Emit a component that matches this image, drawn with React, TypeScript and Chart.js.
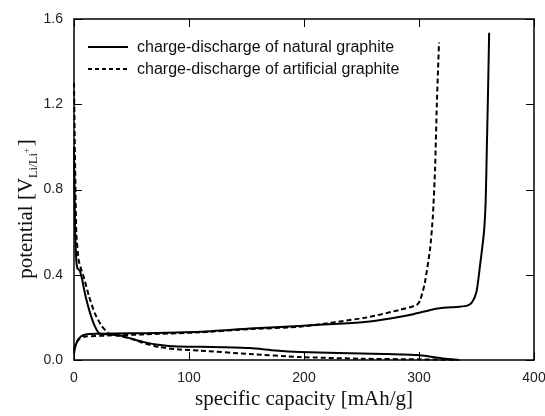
import React, { useEffect, useRef } from "react";
import { Chart, registerables } from "chart.js";

Chart.register(...registerables);

const xTicks = [0, 100, 200, 300, 400];
const yTicks = [0.0, 0.4, 0.8, 1.2, 1.6];

const legendLabels = [
  "charge-discharge of natural graphite",
  "charge-discharge of artificial graphite",
];

// natural graphite — lithiation (discharge)
const natDisCap = [0, 0.5, 1, 2, 3, 5, 7, 10, 14, 18, 22, 30, 40, 50, 60, 75, 90, 110, 130, 153, 175, 196, 230, 270, 298, 315, 328, 335];
const natDisV = [1.0, 0.8, 0.6, 0.47, 0.43, 0.42, 0.38, 0.3, 0.22, 0.16, 0.125, 0.12, 0.115, 0.1, 0.085, 0.07, 0.063, 0.062, 0.06, 0.056, 0.045, 0.038, 0.033, 0.028, 0.023, 0.012, 0.003, 0.0];
// natural graphite — delithiation (charge)
const natChCap = [0, 1, 3, 6, 10, 20, 50, 110, 153, 196, 230, 255, 275, 295, 310, 318, 335, 342, 346, 350, 353, 356.5, 358, 359, 360, 361];
const natChV = [0.03, 0.06, 0.09, 0.11, 0.12, 0.123, 0.125, 0.133, 0.148, 0.16, 0.17, 0.18, 0.195, 0.215, 0.235, 0.243, 0.25, 0.255, 0.27, 0.32, 0.44, 0.6, 0.75, 1.0, 1.25, 1.535];
// artificial graphite — lithiation (discharge)
const artDisCap = [0, 1, 2, 4, 6, 9, 13, 18, 24, 30, 35, 50, 60, 75, 90, 110, 153, 196, 250, 300, 330];
const artDisV = [1.3, 0.9, 0.6, 0.47, 0.43, 0.38, 0.3, 0.22, 0.16, 0.125, 0.118, 0.1, 0.08, 0.06, 0.05, 0.044, 0.028, 0.014, 0.006, 0.003, 0.001];
// artificial graphite — delithiation (charge)
const artChCap = [0, 2, 5, 10, 30, 60, 110, 153, 196, 255, 283, 298, 301, 305, 309.6, 312, 314, 315.5, 317.4];
const artChV = [0.05, 0.08, 0.1, 0.11, 0.115, 0.12, 0.13, 0.145, 0.156, 0.2, 0.235, 0.258, 0.28, 0.36, 0.52, 0.67, 0.9, 1.2, 1.49];

const pts = (xs: number[], ys: number[]) => xs.map((x, i) => ({ x, y: ys[i] }));

const SANS = "'Liberation Sans', Arial, sans-serif";
const SERIF = "'Liberation Serif', 'Times New Roman', serif";

const framePlugin = {
  id: "frame",
  afterDatasetsDraw(chart: any) {
    const { ctx, chartArea: a, scales } = chart;
    const xs = scales.x;
    const ys = scales.y;
    ctx.save();
    ctx.strokeStyle = "#000";
    ctx.lineWidth = 1.5;
    ctx.strokeRect(a.left, a.top, a.right - a.left, a.bottom - a.top);
    const tl = 8;
    ctx.lineWidth = 1;
    ctx.beginPath();
    xTicks.forEach((v) => {
      const px = Math.round(xs.getPixelForValue(v)) + 0.5;
      ctx.moveTo(px, a.bottom);
      ctx.lineTo(px, a.bottom - tl);
      ctx.moveTo(px, a.top);
      ctx.lineTo(px, a.top + tl);
    });
    yTicks.forEach((v) => {
      const py = Math.round(ys.getPixelForValue(v)) + 0.5;
      ctx.moveTo(a.left, py);
      ctx.lineTo(a.left + tl, py);
      ctx.moveTo(a.right, py);
      ctx.lineTo(a.right - tl, py);
    });
    ctx.stroke();

    // legend
    ctx.font = `16px ${SANS}`;
    ctx.fillStyle = "#111";
    ctx.textBaseline = "middle";
    const rows = [47, 69];
    rows.forEach((ry, i) => {
      ctx.beginPath();
      ctx.lineWidth = 2;
      ctx.setLineDash(i === 0 ? [] : [4, 3]);
      ctx.moveTo(88, ry);
      ctx.lineTo(128, ry);
      ctx.stroke();
      ctx.setLineDash([]);
      ctx.fillText(legendLabels[i], 137, ry + 1);
    });

    // x title
    ctx.textBaseline = "alphabetic";
    ctx.textAlign = "center";
    ctx.font = `21px ${SERIF}`;
    ctx.fillText("specific capacity [mAh/g]", (a.left + a.right) / 2, 405);

    // y title with subscript/superscript
    ctx.save();
    ctx.translate(32, 209);
    ctx.rotate(-Math.PI / 2);
    const main1 = "potential [V";
    const sub = "Li/Li";
    const sup = "+";
    const end = "]";
    ctx.font = `21px ${SERIF}`;
    const w1 = ctx.measureText(main1).width;
    const w4 = ctx.measureText(end).width;
    ctx.font = `12px ${SERIF}`;
    const w2 = ctx.measureText(sub).width;
    ctx.font = `9px ${SERIF}`;
    const w3 = ctx.measureText(sup).width;
    const total = w1 + w2 + w3 + w4 + 2;
    let cx = -total / 2;
    ctx.textAlign = "left";
    ctx.font = `21px ${SERIF}`;
    ctx.fillText(main1, cx, 0);
    cx += w1;
    ctx.font = `12px ${SERIF}`;
    ctx.fillText(sub, cx, 5);
    cx += w2;
    ctx.font = `9px ${SERIF}`;
    ctx.fillText(sup, cx, -3);
    cx += w3 + 2;
    ctx.font = `21px ${SERIF}`;
    ctx.fillText(end, cx, 0);
    ctx.restore();

    ctx.restore();
  },
};

export default function App() {
  const ref = useRef<HTMLCanvasElement | null>(null);
  useEffect(() => {
    document.body.style.margin = "0";
    const line = (data: any, dashed: boolean) => ({
      data,
      showLine: true,
      borderColor: "#000",
      backgroundColor: "#000",
      borderWidth: 2,
      borderDash: dashed ? [5, 3] : [],
      pointRadius: 0,
      tension: 0.2,
      fill: false,
      clip: 4,
    });
    const chart = new Chart(ref.current as HTMLCanvasElement, {
      type: "scatter",
      data: {
        datasets: [
          line(pts(natDisCap, natDisV), false),
          line(pts(natChCap, natChV), false),
          line(pts(artDisCap, artDisV), true),
          line(pts(artChCap, artChV), true),
        ],
      },
      options: {
        animation: false,
        responsive: false,
        maintainAspectRatio: false,
        layout: { padding: { top: 19, right: 11, left: 0, bottom: 0 } },
        plugins: { legend: { display: false }, tooltip: { enabled: false } },
        scales: {
          x: {
            type: "linear",
            min: 0,
            max: 400,
            afterFit: (s: any) => {
              s.height = 56;
              s.paddingLeft = 0;
              s.paddingRight = 0;
            },
            afterBuildTicks: (s: any) => {
              s.ticks = xTicks.map((v) => ({ value: v }));
            },
            grid: { display: false, drawTicks: false },
            border: { display: false },
            ticks: {
              color: "#222",
              font: { family: SANS, size: 14 },
              padding: 10,
              callback: (v: any) => String(v),
            },
          },
          y: {
            type: "linear",
            min: 0,
            max: 1.6,
            afterFit: (s: any) => {
              s.width = 74;
              s.paddingTop = 0;
              s.paddingBottom = 0;
            },
            afterBuildTicks: (s: any) => {
              s.ticks = yTicks.map((v) => ({ value: v }));
            },
            grid: { display: false, drawTicks: false },
            border: { display: false },
            ticks: {
              color: "#222",
              font: { family: SANS, size: 14 },
              padding: 11,
              callback: (v: any) => Number(v).toFixed(1),
            },
          },
        },
      },
      plugins: [framePlugin],
    });
    return () => chart.destroy();
  }, []);
  return <canvas ref={ref} width={545} height={416} style={{ display: "block" }} />;
}
